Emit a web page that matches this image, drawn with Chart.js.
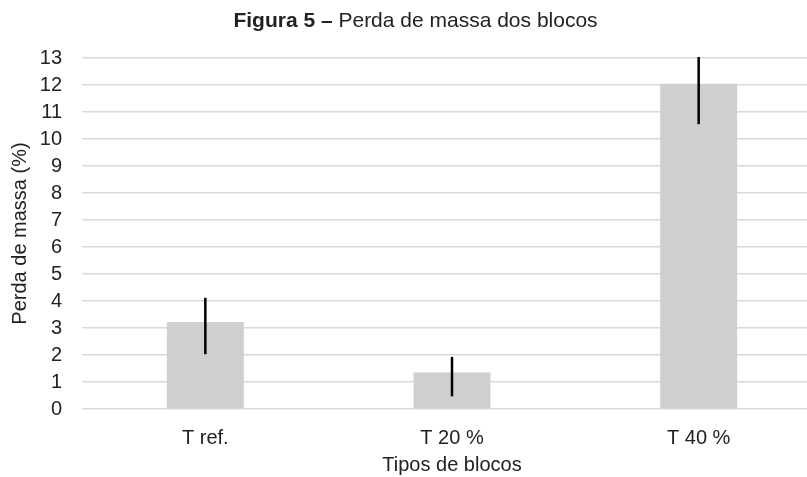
<!DOCTYPE html>
<html>
<head>
<meta charset="utf-8">
<script src="https://cdn.jsdelivr.net/npm/chart.js@4"></script>
<style>
  html, body { margin: 0; padding: 0; background: #fff; overflow: hidden; }
  #wrap { position: relative; width: 822px; height: 477px; }
  #title {
    position: absolute; left: 12px; top: 8px; width: 807px; text-align: center;
    font-family: "Liberation Sans", Arial, sans-serif; font-size: 21px; color: #222;
  }
</style>
</head>
<body>
<div id="wrap">
  <div id="title"><b>Figura 5 –</b> Perda de massa dos blocos</div>
  <canvas id="chart" width="822" height="477"></canvas>
</div>
<script>
// Chart data
const categories = ["T ref.", "T 20 %", "T 40 %"];
const massLoss = [3.22, 1.35, 12.05];
const errLow = [2.03, 0.47, 10.55];
const errHigh = [4.12, 1.93, 13.05];
const yTicks = [0, 1, 2, 3, 4, 5, 6, 7, 8, 9, 10, 11, 12, 13];

const fontFamily = '"Liberation Sans", Arial, sans-serif';
const textColor = "#222";

// Error bars drawn from the lower/upper values
const errorBars = {
  id: "errorBars",
  afterDatasetsDraw(chart) {
    const ctx = chart.ctx;
    const meta = chart.getDatasetMeta(0);
    const y = chart.scales.y;
    const area = chart.chartArea;
    ctx.save();
    ctx.beginPath();
    ctx.rect(area.left, area.top - 1, area.right - area.left, area.bottom - area.top + 1);
    ctx.clip();
    ctx.strokeStyle = "#000";
    ctx.lineWidth = 2.5;
    meta.data.forEach((bar, i) => {
      ctx.beginPath();
      ctx.moveTo(bar.x, y.getPixelForValue(errLow[i]));
      ctx.lineTo(bar.x, y.getPixelForValue(errHigh[i]));
      ctx.stroke();
    });
    ctx.restore();
  },
};

new Chart(document.getElementById("chart"), {
  type: "bar",
  data: {
    labels: categories,
    datasets: [
      {
        label: "Perda de massa",
        data: massLoss,
        backgroundColor: "#d0cece",
        borderWidth: 0,
        barPercentage: 0.312,
        categoryPercentage: 1,
      },
    ],
  },
  options: {
    responsive: false,
    animation: false,
    layout: { padding: { top: 58, right: 0, bottom: 0, left: 0 } },
    plugins: {
      legend: { display: false },
      tooltip: { enabled: false },
    },
    scales: {
      x: {
        grid: { display: false },
        border: { display: false },
        ticks: {
          color: textColor,
          font: { family: fontFamily, size: 20 },
          padding: 9,
        },
        title: {
          display: true,
          text: "Tipos de blocos",
          color: textColor,
          font: { family: fontFamily, size: 20 },
          padding: { top: 7, bottom: 0 },
        },
        afterFit(scale) {
          scale.height = 68;
        },
      },
      y: {
        min: 0,
        max: 13,
        afterBuildTicks(scale) {
          scale.ticks = yTicks.map((v) => ({ value: v }));
        },
        grid: {
          color: "#d9d9d9",
          lineWidth: 1.5,
          drawTicks: false,
        },
        border: { display: false },
        ticks: {
          color: textColor,
          font: { family: fontFamily, size: 20 },
          padding: 20,
        },
        title: {
          display: true,
          text: "Perda de massa (%)",
          color: textColor,
          font: { family: fontFamily, size: 20 },
          padding: { top: 8, bottom: 0 },
        },
        afterFit(scale) {
          scale.width = 82;
        },
      },
    },
  },
  plugins: [errorBars],
});
</script>
</body>
</html>
